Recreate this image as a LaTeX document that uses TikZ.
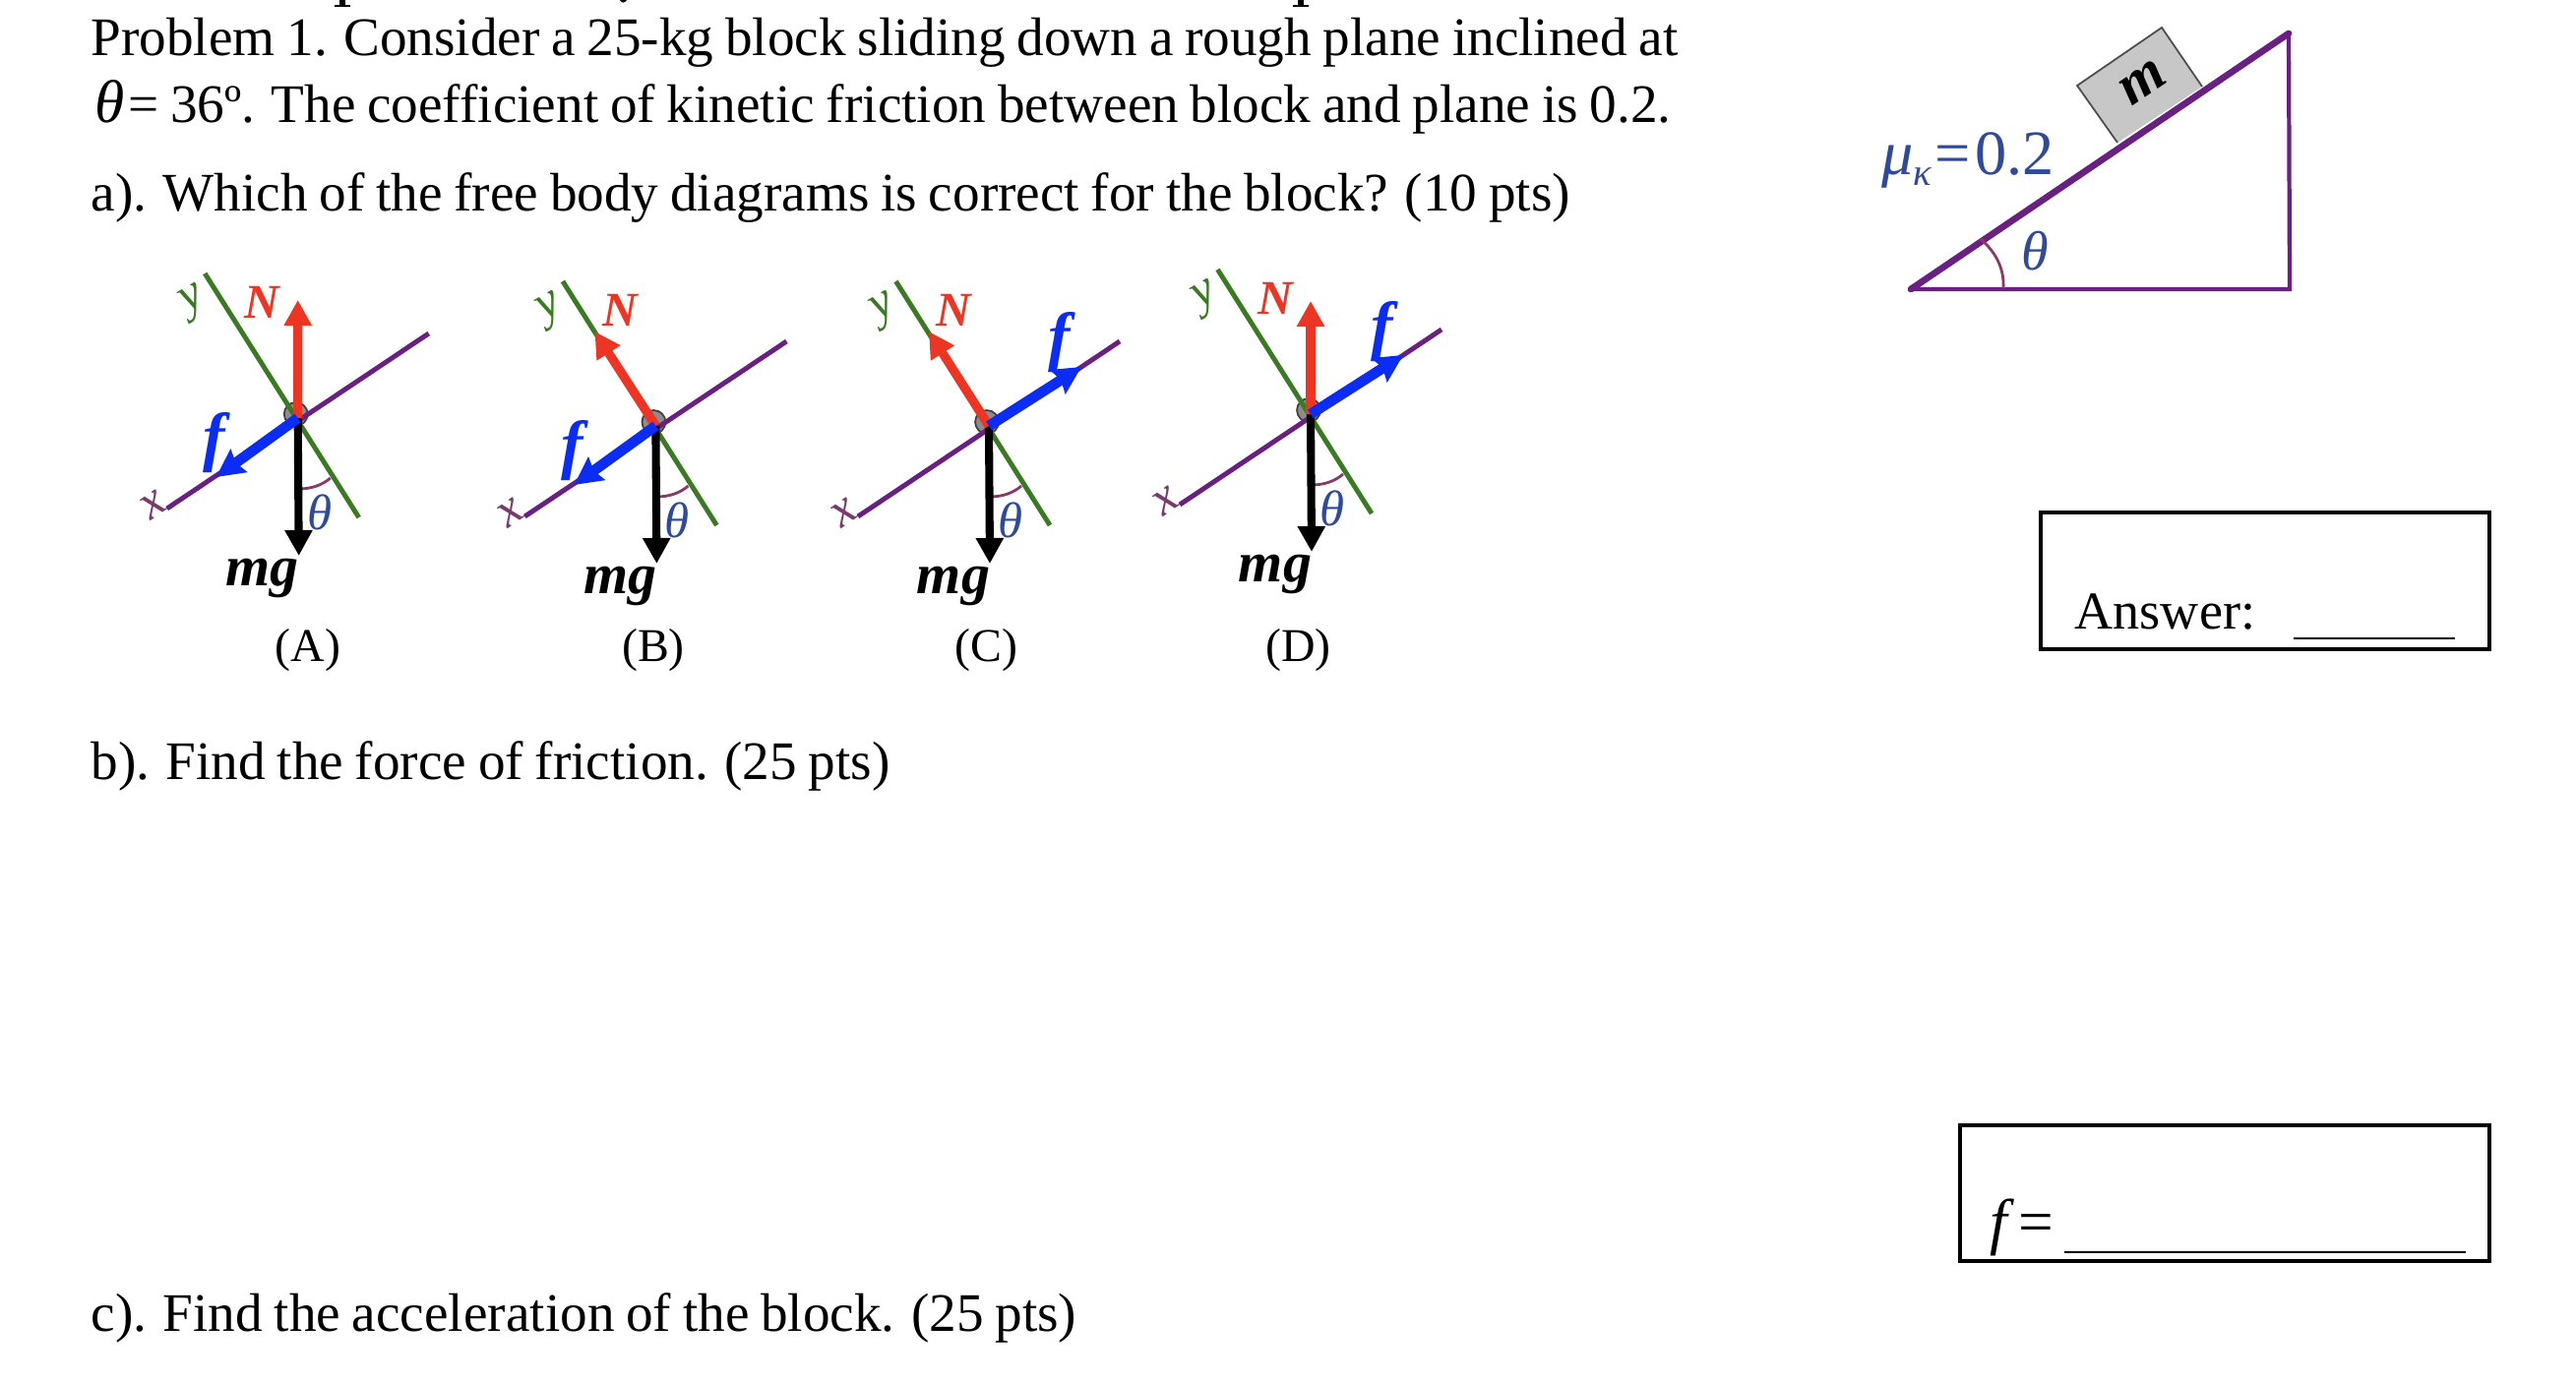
\documentclass[tikz,border=0pt]{standalone}
\usepackage{fontspec}
\setmainfont[WordSpace=0.85]{Liberation Serif}
\usetikzlibrary{arrows.meta}
\definecolor{planepurple}{HTML}{6A1F82}
\definecolor{axisgreen}{HTML}{3A7A22}
\definecolor{forcered}{HTML}{EE3524}
\definecolor{forceblue}{HTML}{0A2CF5}
\definecolor{anglered}{HTML}{8A3A68}
\definecolor{labelblue}{HTML}{2F4A9B}
\definecolor{labelplum}{HTML}{7A3A6E}
\tikzset{
  txt/.style={anchor=base west,inner sep=0pt,font=\fontsize{15.7}{18}\selectfont},
  tag/.style={inner sep=0pt,font=\fontsize{13.6}{15}\selectfont},
  lab/.style={inner sep=0pt,font=\fontsize{14.5}{16}\selectfont\itshape},
  boldlab/.style={inner sep=0pt,font=\fontsize{16.5}{18}\selectfont\bfseries\itshape},
  normalF/.style={line width=2.6pt,forcered,-{Triangle[length=7.4pt,width=7.6pt]}},
  frictionF/.style={line width=3pt,forceblue,-{Stealth[length=8pt,width=8pt,inset=1pt]}},
  weightF/.style={line width=2.3pt,black,-{Triangle[length=7.4pt,width=7.6pt]}},
  box/.style={line width=1pt,black}
}
\begin{document}
\begin{tikzpicture}[x=0.01cm,y=-0.01cm]
\useasboundingbox (0,0) rectangle (2618,1406);
\fill[white] (0,0) rectangle (2618,1406);
%Cut off heading
\fill (345,0) rectangle (351,5);
\fill (340,5) rectangle (356,6.5);
\fill (1319,0) rectangle (1325,5);
\fill (1314,5) rectangle (1330,6.5);
\fill (630,0) .. controls (632,3) and (634,4) .. (637,0) -- cycle;
%Problem text
\node[txt] (line1) at (92,57) {Problem 1. Consider a 25-kg block sliding down a rough plane inclined at};
\node[txt] (line2) at (96,124) {{\fontsize{17.5}{18}\selectfont\textit{θ}}\kern1pt= 36º. The coefficient of kinetic friction between block and plane is 0.2.};
\node[txt] (parta) at (92,214) {a). Which of the free body diagrams is correct for the block? (10 pts)};
\node[txt] (partb) at (92,792) {b). Find the force of friction. (25 pts)};
\node[txt] (partc) at (92,1353) {c). Find the acceleration of the block. (25 pts)};
%Free body diagrams
\foreach \n/\dx/\dy/\ntx/\nty/\ftx/\fty/\flx/\fly/\tagx/\tagname in {
  a/302.7/425/0/-120/-83/60/-85/25/312.8/A,
  b/666.4/433/-62/-96/-83/60/-85/25/664/B,
  c/1005/433/-61/-96/94/-60/72/-85/1002.7/C,
  d/1332/421/0/-115/94/-60/73/-84/1319.5/D}
{
\begin{scope}[shift={(\dx,\dy)}]
\coordinate (\n-o) at (0,0);
\node[circle,draw=black!75,fill=black!45,line width=0.5pt,minimum size=6.8pt,inner sep=0pt] (\n-ball) at (-2,-4) {};
\draw[axisgreen,line width=1.4pt] (-94.5,-147) -- (62,101);
\draw[planepurple,line width=1.4pt] (-133,92) -- (133,-86);
\draw[anglered,line width=0.8pt] (1,72) .. controls (14,72) and (25,68) .. (33,61);
\coordinate (\n-ntip) at (\ntx,\nty);
\coordinate (\n-ftip) at (\ftx,\fty);
\coordinate (\n-wtip) at (1,140);
\draw[weightF] (\n-o) -- (\n-wtip);
\draw[normalF] (\n-o) -- (\n-ntip);
\draw[frictionF] (\n-o) -- (\n-ftip);
%Labels
\node[lab,labelplum,rotate=35] (\n-x) at (-147,88) {x};
\node[lab,axisgreen,rotate=30] (\n-y) at (-106,-118) {y};
\node[lab,labelblue] (\n-th) at (22,96) {θ};
\node[boldlab,forcered,font=\fontsize{14}{15}\selectfont\bfseries\itshape] (\n-n) at (-36,-118) {N};
\node[boldlab,forceblue,font=\fontsize{19}{20}\selectfont\bfseries\itshape] (\n-f) at (\flx,\fly) {f};
\node[boldlab] (\n-mg) at (-36,163) {mg};
\end{scope}
\node[tag] (\n-tag) at (\tagx,661) {(\tagname)};
}
%Incline
\coordinate (left) at (1942,294);
\coordinate (top) at (2326,34);
\coordinate (right) at (2327,294);
\fill[black!22] (2152,145) -- (2111,87) -- (2197,28) -- (2238,88) -- cycle;
\draw[black!70,line width=0.5pt] (2152,145) -- (2111,87) -- (2197,28) -- (2238,88);
\draw[planepurple,line width=1.2pt] (left) -- (right) -- (top);
\draw[planepurple,line width=1.9pt,line cap=round] (left) -- (top);
\draw[anglered,line width=0.8pt] (2013,243) .. controls (2030,258) and (2037,275) .. (2036,293);
\node[boldlab,rotate=34,font=\fontsize{17}{18}\selectfont\bfseries\itshape] (mass) at (2178,84) {m};
\node[inner sep=0pt,labelblue,font=\fontsize{18.3}{20}\selectfont] (mu) at (2000,163) {\textit{μ}\raisebox{-3pt}{\fontsize{11}{12}\selectfont\textit{κ}}\kern1pt=\kern1.2pt0.2};
\node[lab,labelblue,font=\fontsize{16}{18}\selectfont\itshape] (angle) at (2068,255) {θ};
%Answer boxes
\draw[box] (2074,521) rectangle (2530,660);
\node[txt,font=\fontsize{15.4}{18}\selectfont] (answer) at (2108,639) {Answer:};
\coordinate (ansl) at (2331,649);
\coordinate (ansr) at (2495,649);
\draw[line width=0.6pt] (ansl) -- (ansr);
\draw[box] (1992,1144) rectangle (2530,1282);
\node[txt,font=\fontsize{18}{20}\selectfont] (force) at (2022,1263) {\textit{f}\kern1pt=};
\coordinate (fl) at (2098,1273);
\coordinate (fr) at (2506,1273);
\draw[line width=0.6pt] (fl) -- (fr);
\end{tikzpicture}
\end{document}
